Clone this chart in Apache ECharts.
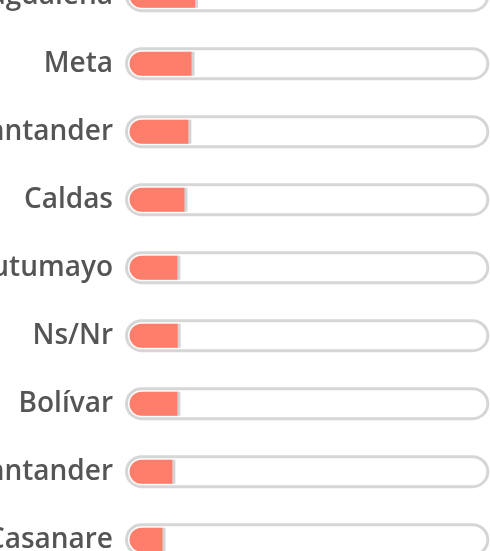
<!DOCTYPE html>
<html><head><meta charset="utf-8">
<script src="https://cdn.jsdelivr.net/npm/echarts@6/dist/echarts.min.js"></script>
<style>html,body{margin:0;padding:0;background:#fff}#c{width:490px;height:551px}</style>
</head><body><div id="c"></div>
<script>
const categories = ['Magdalena', 'Meta', 'Norte de Santander', 'Caldas', 'Putumayo', 'Ns/Nr', 'Bolívar', 'Santander', 'Casanare'];
const values = [18.5, 17.5, 16.6, 15.5, 13.5, 13.6, 13.5, 12.1, 9.3];
const trackFull = [100, 100, 100, 100, 100, 100, 100, 100, 100];

const chart = echarts.init(document.getElementById('c'), null, {renderer: 'canvas'});
const gridBase = {top: -38.3, bottom: -22.7, containLabel: false, outerBoundsMode: 'none'};
chart.setOption({
  animation: false,
  backgroundColor: '#ffffff',
  grid: [
    Object.assign({left: 125, right: 0.7}, gridBase),
    Object.assign({left: 129.5, right: 6}, gridBase)
  ],
  xAxis: [
    {type: 'value', gridIndex: 0, min: 0, max: 100, show: false},
    {type: 'value', gridIndex: 1, min: 0, max: 100, show: false}
  ],
  yAxis: [
    {type: 'category', gridIndex: 0, data: categories, inverse: true,
     axisLine: {show: false}, axisTick: {show: false}, splitLine: {show: false},
     axisLabel: {margin: 12, color: '#555555', fontSize: 28, fontWeight: 600, fontFamily: 'Open Sans', padding: [2, 0, 0, 0]}},
    {type: 'category', gridIndex: 1, data: categories, inverse: true, show: false}
  ],
  series: [
    {type: 'bar', xAxisIndex: 0, yAxisIndex: 0, data: trackFull, barWidth: 33, silent: true, z: 1,
     itemStyle: {color: '#ffffff', borderColor: '#d6d6d6', borderWidth: 3, borderRadius: 16.5}},
    {type: 'bar', xAxisIndex: 1, yAxisIndex: 1, data: values, barWidth: 24, z: 3,
     itemStyle: {color: '#ff7d6b', borderRadius: [12, 0, 0, 12],
       shadowColor: 'rgba(0,0,0,0.17)', shadowOffsetX: 3, shadowOffsetY: 0, shadowBlur: 0}}
  ]
});
</script></body></html>
